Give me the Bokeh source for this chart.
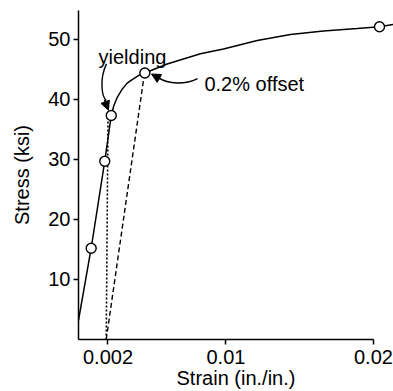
from bokeh.plotting import figure
from bokeh.models import Range1d, FixedTicker, Arrow, NormalHead, Label
from bokeh.embed import file_html
from bokeh.resources import INLINE

# ---- data ----
curve_strain = [0.0, 0.00086, 0.00178, 0.00222, 0.00239, 0.00262, 0.00296, 0.0033,
                0.00364, 0.00409, 0.0045, 0.00601, 0.00827, 0.00983, 0.01212,
                0.01437, 0.01661, 0.01889, 0.02041, 0.02136]
curve_stress = [3.2, 15.2, 29.7, 37.3, 38.9, 40.3, 41.7, 42.7,
                43.3, 44.0, 44.4, 45.9, 47.6, 48.4, 49.8,
                50.8, 51.4, 51.8, 52.1, 52.5]

marker_strain = [0.00086, 0.00178, 0.00222, 0.0045, 0.02041]
marker_stress = [15.2, 29.7, 37.3, 44.4, 52.1]

offset_strain = [0.00188, 0.00443]      # 0.2% offset line (dashed)
offset_stress = [0.0, 43.6]
vertical_strain = [0.00188, 0.00200]    # dotted line
vertical_stress = [0.0, 36.4]

x_tick_values = [0.002, 0.01, 0.02]
x_tick_labels = ["0.002", "0.01", "0.02"]
y_tick_values = [10, 20, 30, 40, 50]

FONT = "Liberation Sans"

p = figure(width=393, height=391, output_backend="svg", toolbar_location=None,
           x_range=Range1d(0, 0.02136), y_range=Range1d(0, 54.8),
           min_border_left=78, min_border_right=0, min_border_top=10, min_border_bottom=0)
p.outline_line_color = None
p.xgrid.visible = False
p.ygrid.visible = False
p.background_fill_color = "white"
p.border_fill_color = "white"

# curve and construction lines
p.line(curve_strain, curve_stress, line_color="black", line_width=1.5)
p.line(offset_strain, offset_stress, line_color="black", line_width=1.4, line_dash="5 3")
p.line(vertical_strain, vertical_stress, line_color="black", line_width=1.6, line_dash="2 2")
p.scatter(marker_strain, marker_stress, size=10, marker="circle",
          fill_color="white", line_color="black", line_width=1.4)

# axes
for ax in (p.xaxis[0], p.yaxis[0]):
    ax.axis_line_color = "black"
    ax.axis_line_width = 1.5
    ax.major_tick_line_color = "black"
    ax.major_tick_line_width = 1.5
    ax.major_tick_in = 0
    ax.major_tick_out = 5
    ax.minor_tick_line_color = None
    ax.major_label_text_font = FONT
    ax.major_label_text_font_size = "20px"
    ax.major_label_text_color = "black"
    ax.axis_label_text_font = FONT
    ax.axis_label_text_font_size = "20px"
    ax.axis_label_text_font_style = "normal"
    ax.axis_label_text_color = "black"

p.xaxis.ticker = FixedTicker(ticks=x_tick_values)
p.xaxis.major_label_overrides = dict(zip(x_tick_values, x_tick_labels))
p.xaxis.bounds = (0, 0.02)
p.xaxis.axis_label = "Strain (in./in.)"
p.xaxis.major_label_standoff = 5
p.xaxis.axis_label_standoff = 0

p.yaxis.ticker = FixedTicker(ticks=y_tick_values)
p.yaxis.axis_label = "Stress (ksi)"
p.yaxis.major_label_standoff = 3
p.yaxis.axis_label_standoff = 12

# annotations
p.add_layout(Label(x=0.00136, y=47.1, text="yielding", text_font=FONT,
                   text_font_size="20px", text_color="black", text_baseline="alphabetic"))
p.add_layout(Label(x=0.00854, y=42.6, text="0.2% offset", text_font=FONT,
                   text_font_size="20px", text_color="black", text_baseline="alphabetic"))

# curved arrow for "yielding"
p.bezier(x0=[0.0019], y0=[45.9], x1=[0.00188], y1=[39.8],
         cx0=[0.00142], cy0=[43.5], cx1=[0.00156], cy1=[40.5],
         line_color="black", line_width=1.4)
p.add_layout(Arrow(end=NormalHead(size=9, fill_color="black", line_color="black", line_width=1),
                   x_start=0.00176, y_start=39.9, x_end=0.00203, y_end=38.2,
                   line_color="black", line_width=1.4))

# curved arrow for "0.2% offset"
p.bezier(x0=[0.00807], y0=[43.47], x1=[0.00542], y1=[43.63],
         cx0=[0.00725], cy0=[42.46], cx1=[0.0061], cy1=[42.46],
         line_color="black", line_width=1.4)
p.add_layout(Arrow(end=NormalHead(size=9, fill_color="black", line_color="black", line_width=1),
                   x_start=0.00556, y_start=43.38, x_end=0.00495, y_end=44.22,
                   line_color="black", line_width=1.4))

open("out.html", "w").write(file_html(p, INLINE))
